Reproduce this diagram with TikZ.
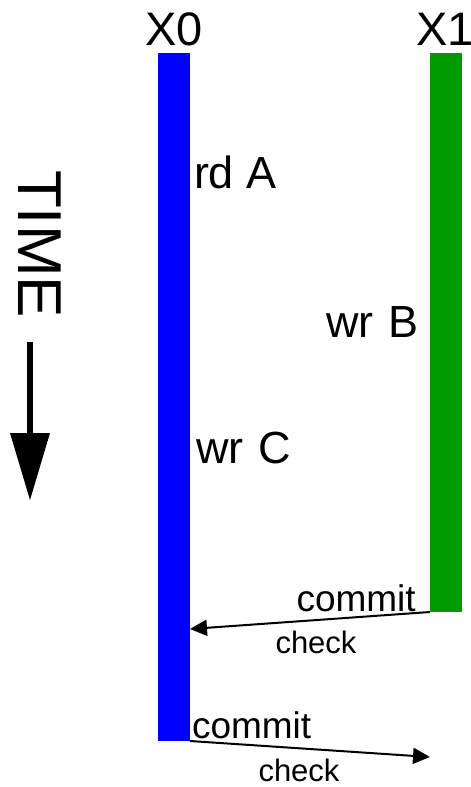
\documentclass[tikz,border=0pt]{standalone}
\usepackage{fontspec}
\setmainfont{Liberation Sans}
\usetikzlibrary{arrows.meta,calc}
\definecolor{barblue}{RGB}{0,0,255}
\definecolor{bargreen}{RGB}{0,153,0}
\begin{document}
\begin{tikzpicture}[x=1pt,y=1pt,
  bar/.style={inner sep=0pt, outer sep=0pt, minimum width=32pt, anchor=north west},
  lbl/.style={inner sep=0pt, outer sep=0pt, anchor=base west, font=\fontsize{45}{45}\selectfont},
  head/.style={inner sep=0pt, outer sep=0pt, anchor=base west, font=\fontsize{47}{47}\selectfont},
  small/.style={inner sep=0pt, outer sep=0pt, anchor=base west, font=\fontsize{37}{37}\selectfont},
  smaller/.style={inner sep=0pt, outer sep=0pt, anchor=base west, font=\fontsize{31}{31}\selectfont},
  msg/.style={line width=2pt, -{Triangle[length=17pt,width=16pt]}}]
\useasboundingbox (0,0) rectangle (471,-787);
% bars
\node[bar, fill=barblue, minimum height=688pt] (x0bar) at (158,-53) {};
\node[bar, fill=bargreen, minimum height=559pt] (x1bar) at (430,-53) {};
% headings
\node[head] (x0) at (145,-45) {X0};
\node[head] (x1) at (416,-45) {X1};
% operations
\node[lbl] (rdA) at (194,-188) {rd A};
\node[lbl] (wrB) at (326.5,-337) {wr\kern2pt{} B};
\node[lbl] (wrC) at (196.5,-463) {wr\kern2pt{} C};
% time
\node[inner sep=0pt, outer sep=0pt, anchor=base west, rotate=-90, font=\fontsize{62}{62}\selectfont] (time) at (18,-170) {TIME};
\coordinate (ttop) at (30,-342);
\coordinate (tmid) at (30,-436);
\draw[line width=6pt] (ttop) -- (tmid);
\fill (10,-433) -- (50,-433) -- (30,-500) -- cycle;
% commit / check messages
\coordinate (in1) at ($(x0bar.north east)+(0,-576)$);
\coordinate (out2) at (430,-757);
\draw[msg] (x1bar.south west) -- (in1);
\draw[msg] (x0bar.south east) -- (out2);
\node[small] (c1) at (296.5,-611.5) {commit};
\node[smaller] (k1) at (275.5,-653) {check};
\node[small] (c2) at (192,-738.5) {commit};
\node[smaller] (k2) at (258.5,-781.5) {check};
\end{tikzpicture}
\end{document}
